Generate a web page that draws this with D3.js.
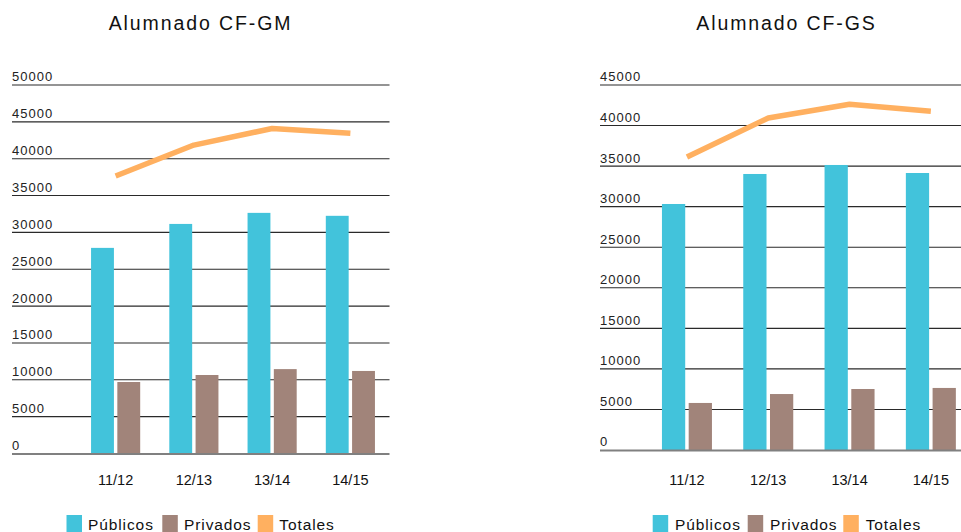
<!DOCTYPE html>
<html><head><meta charset="utf-8">
<script src="https://cdn.jsdelivr.net/npm/d3@7"></script>
<style>html,body{margin:0;padding:0;background:#fff;}svg{display:block;}</style>
</head><body>
<svg id="c" width="961" height="532"></svg>
<script>
const categories = ["11/12", "12/13", "13/14", "14/15"];
const seriesNames = ["Públicos", "Privados", "Totales"];
const colors = ["#42c3db", "#a1847a", "#ffb060"];

const gmTitle = "Alumnado CF-GM";
const gmPublicos = [27900, 31150, 32650, 32250];
const gmPrivados = [9700, 10650, 11450, 11200];
const gmTotales = [37650, 41850, 44100, 43450];
const gmTicks = [0, 5000, 10000, 15000, 20000, 25000, 30000, 35000, 40000, 45000, 50000];

const gsTitle = "Alumnado CF-GS";
const gsPublicos = [30330, 34030, 35140, 34150];
const gsPrivados = [5800, 6900, 7520, 7650];
const gsTotales = [36130, 40930, 42620, 41760];
const gsTicks = [0, 5000, 10000, 15000, 20000, 25000, 30000, 35000, 40000, 45000];

const svg = d3.select("#c");
const FONT = "'Liberation Sans', Arial, Helvetica, sans-serif";

function drawChart(cfg) {
  const g = svg.append("g");
  const y = d3.scaleLinear().domain([0, cfg.ticks[cfg.ticks.length - 1]]).range([cfg.y0, cfg.yTop]);
  const x0 = d3.scaleBand().domain(categories).range(cfg.xRange)
    .paddingInner(cfg.pad).paddingOuter(cfg.pad / 2);
  const x1 = d3.scaleBand().domain([0, 1]).range([0, x0.bandwidth()]).paddingInner(0.13);

  // title
  g.append("text").attr("x", cfg.titleX).attr("y", 29.5)
    .attr("text-anchor", "middle").attr("font-family", FONT)
    .attr("font-size", 19.5).attr("letter-spacing", 1.9).attr("fill", "#111")
    .text(cfg.title);

  // gridlines + labels
  const grid = g.append("g");
  cfg.ticks.forEach(t => {
    if (t === 0) return;
    grid.append("line").attr("x1", cfg.gx1).attr("x2", cfg.gx2)
      .attr("y1", y(t)).attr("y2", y(t)).attr("stroke", "#2a2a2a").attr("stroke-width", 1.1);
  });
  cfg.ticks.forEach(t => {
    grid.append("text").attr("x", cfg.gx1).attr("y", y(t) - 3.6)
      .attr("font-family", FONT).attr("font-size", 13).attr("letter-spacing", 1.05)
      .attr("fill", "#222").text(t);
  });

  // bars
  const data = categories.map((c, i) => ({c, v: [cfg.pub[i], cfg.priv[i]]}));
  const grp = g.selectAll("g.grp").data(data).enter().append("g")
    .attr("transform", d => `translate(${x0(d.c)},0)`);
  grp.selectAll("rect").data(d => d.v).enter().append("rect")
    .attr("x", (d, i) => x1(i)).attr("width", x1.bandwidth())
    .attr("y", d => y(d)).attr("height", d => y(0) - y(d))
    .attr("fill", (d, i) => colors[i]);

  // baseline
  g.append("line").attr("x1", cfg.gx1).attr("x2", cfg.gx2)
    .attr("y1", y(0) + 0.5).attr("y2", y(0) + 0.5).attr("stroke", "#808080").attr("stroke-width", 2);

  // totals line
  const line = d3.line().x((d, i) => x0(categories[i]) + x0.bandwidth() / 2).y(d => y(d));
  g.append("path").datum(cfg.tot).attr("d", line).attr("fill", "none")
    .attr("stroke", colors[2]).attr("stroke-width", 5.5).attr("stroke-linejoin", "round");

  // category labels
  const xAxis = d3.axisBottom(x0).tickSize(0).tickPadding(0);
  const ax = g.append("g").attr("transform", `translate(0,${cfg.catY})`).call(xAxis);
  ax.select(".domain").remove();
  ax.selectAll("text").attr("font-family", FONT).attr("font-size", 14.5)
    .attr("fill", "#111").attr("dy", 0).attr("y", 0);

  // legend
  const lg = g.append("g");
  cfg.legend.forEach((L, i) => {
    lg.append("rect").attr("x", L[0]).attr("y", 515).attr("width", 15.5).attr("height", 17)
      .attr("fill", colors[i]);
    lg.append("text").attr("x", L[1]).attr("y", 529.5).attr("font-family", FONT)
      .attr("font-size", 15.5).attr("letter-spacing", 0.9).attr("fill", "#111").text(seriesNames[i]);
  });
}

drawChart({
  title: gmTitle, titleX: 200.5, ticks: gmTicks, pub: gmPublicos, priv: gmPrivados, tot: gmTotales,
  y0: 453.5, yTop: 85, xRange: [76.5, 389.5], pad: 0.372, gx1: 12, gx2: 389.5, catY: 485,
  legend: [[66.5, 88], [162.3, 184], [257.7, 279.3]]
});
drawChart({
  title: gsTitle, titleX: 786.5, ticks: gsTicks, pub: gsPublicos, priv: gsPrivados, tot: gsTotales,
  y0: 450, yTop: 85, xRange: [646.3, 971.5], pad: 0.385, gx1: 600, gx2: 961, catY: 485,
  legend: [[652.7, 675], [747.7, 770], [843.3, 865.7]]
});
</script>
</body></html>
